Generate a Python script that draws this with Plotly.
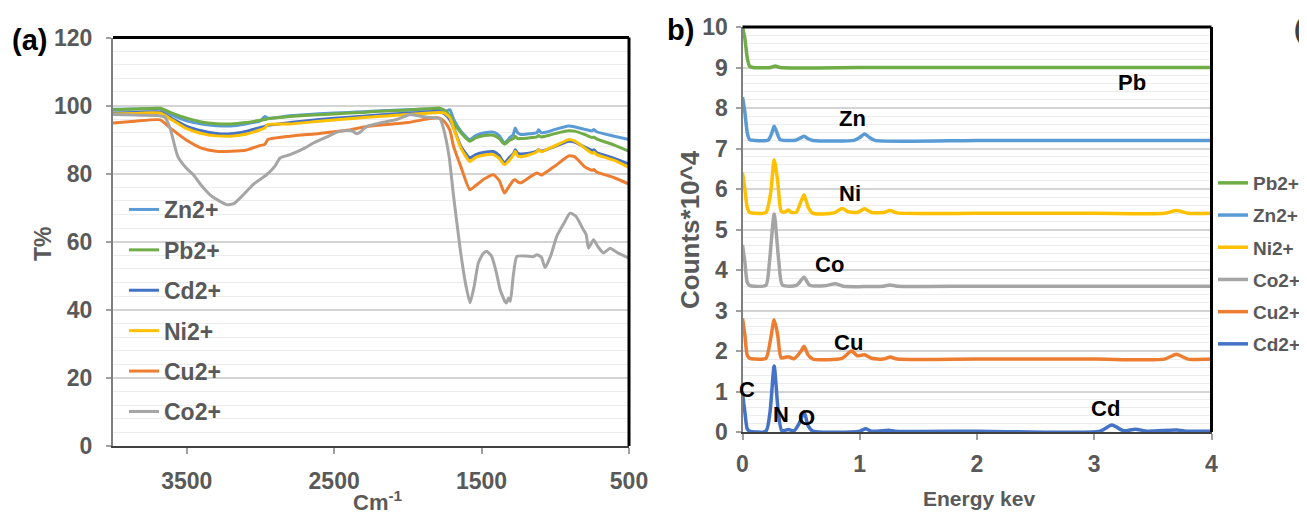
import plotly.graph_objects as go

# page body has an 8px margin; the figure starts 8px in from the top-left
OFF = 8
W, H = 1307 - 2 * OFF, 523 - 2 * OFF

# ---------------- FTIR data (panel a) ----------------
wn_main = [4000, 3850, 3680, 3600, 3500, 3400, 3300, 3200, 3100, 3000, 2970, 2950, 2800, 2600,
           2400, 2300, 2200, 2000, 1850, 1790, 1750, 1715, 1690, 1640, 1580, 1540, 1480, 1420,
           1380, 1345, 1310, 1285, 1272, 1255, 1235, 1180, 1125, 1113, 1095, 1050, 1000, 910,
           870, 800, 750, 738, 720, 600, 500]
t_zn = [98.9, 99.0, 99.0, 97.3, 95.5, 94.6, 94.1, 94.0, 94.6, 95.5, 96.8, 96.3, 97.0, 97.6,
        98.0, 98.2, 98.4, 98.8, 99.0, 99.0, 98.2, 98.8, 96.0, 92.5, 90.0, 91.2, 92.0, 92.2,
        91.2, 89.0, 90.5, 91.5, 93.4, 92.0, 91.5, 91.7, 92.0, 92.9, 92.0, 92.3, 93.0, 94.0,
        93.8, 93.0, 92.6, 93.0, 92.3, 91.0, 90.0]
t_pb = [98.8, 99.0, 99.2, 97.8, 96.3, 95.2, 94.7, 94.6, 95.0, 95.7, 95.9, 96.1, 96.8, 97.3,
        97.8, 98.0, 98.3, 98.7, 99.1, 99.3, 98.6, 97.0, 95.0, 92.0, 89.5, 90.5, 91.2, 91.3,
        90.3, 88.7, 89.8, 90.3, 91.0, 90.3, 90.3, 90.5, 90.8, 91.2, 90.8, 91.2, 91.8, 92.6,
        92.5, 91.5, 90.6, 90.8, 90.2, 88.4, 86.6]
t_cd = [97.8, 98.0, 98.1, 96.2, 93.9, 92.6, 91.8, 91.7, 92.4, 93.6, 93.9, 94.2, 95.0, 95.9,
        96.6, 96.9, 97.2, 97.8, 98.2, 98.3, 97.5, 95.8, 93.5, 88.0, 84.6, 85.6, 86.3, 86.5,
        85.3, 83.1, 84.8, 85.8, 87.0, 86.0, 85.8, 86.0, 86.6, 87.0, 86.6, 87.2, 88.0, 89.5,
        89.3, 87.8, 86.8, 87.0, 86.2, 84.5, 82.8]
t_ni = [97.5, 97.7, 97.8, 95.8, 93.2, 91.8, 91.1, 91.0, 91.6, 92.9, 93.4, 94.4, 94.6, 95.4,
        96.1, 96.5, 96.8, 97.4, 97.8, 98.0, 97.8, 96.5, 93.4, 87.5, 83.6, 84.8, 85.5, 85.6,
        84.5, 82.6, 84.0, 85.5, 86.6, 85.2, 85.0, 85.5, 86.4, 87.0, 86.4, 87.3, 88.2, 90.0,
        89.6, 87.5, 86.0, 86.3, 85.6, 83.9, 81.8]
t_cu = [94.9, 95.4, 95.8, 93.0, 89.8, 87.5, 86.6, 86.6, 86.9, 88.3, 88.6, 90.0, 91.0, 91.8,
        92.8, 93.7, 94.2, 95.0, 96.2, 96.4, 95.2, 92.8, 88.0, 82.0, 75.3, 76.5, 78.5, 79.7,
        78.0, 74.3, 76.5, 78.0, 78.2, 77.6, 77.3, 78.8, 80.2, 80.0, 79.6, 80.8, 82.3, 85.2,
        85.0, 82.0, 81.0, 81.2, 80.5, 78.8, 76.9]
wn_co = [4000, 3850, 3700, 3650, 3613, 3560, 3500, 3455, 3400, 3342, 3280, 3229, 3180, 3116,
         3050, 2957, 2900, 2867, 2799, 2700, 2641, 2550, 2460, 2381, 2347, 2320, 2279, 2180,
         2075, 1985, 1930, 1872, 1804, 1780, 1759, 1720, 1691, 1646, 1610, 1578, 1550, 1522,
         1490, 1465, 1431, 1400, 1374, 1341, 1330, 1318, 1305, 1285, 1261, 1200, 1150, 1125,
         1095, 1069, 1030, 990, 940, 900, 860, 809, 790, 775, 741, 710, 673, 628, 580, 500]
t_co = [97.4, 97.2, 97.1, 96.6, 93.4, 85.0, 81.5, 79.7, 76.5, 73.8, 72.0, 70.9, 71.2, 73.8,
        76.8, 79.7, 82.3, 84.6, 85.6, 87.5, 89.0, 90.8, 92.5, 92.6, 91.7, 92.3, 93.9, 95.0,
        95.9, 97.4, 97.0, 96.6, 96.4, 96.0, 93.4, 85.0, 73.8, 58.2, 48.0, 42.1, 47.0, 53.8,
        56.5, 57.2, 55.7, 51.0, 45.9, 42.4, 42.0, 43.5, 42.5, 50.0, 55.7, 55.8, 55.6, 56.2,
        55.5, 52.4, 56.0, 61.6, 65.5, 68.4, 67.5, 63.5, 62.0, 58.1, 60.6, 58.5, 56.7, 58.1,
        56.8, 55.2]

ftir_names = ["Zn2+", "Pb2+", "Cd2+", "Ni2+", "Cu2+", "Co2+"]
ftir_x = [wn_main, wn_main, wn_main, wn_main, wn_main, wn_co]
ftir_y = [t_zn, t_pb, t_cd, t_ni, t_cu, t_co]
ftir_colors = ["#5B9BD5", "#70AD47", "#4472C4", "#FFC000", "#ED7D31", "#A5A5A5"]
ftir_xticks = [3500, 2500, 1500, 500]

# ---------------- EDX data (panel b) ----------------
e_pb = [0, 0.02, 0.04, 0.06, 0.09, 0.24, 0.28, 0.32, 1.0, 2.0, 3.0, 4.0]
c_pb = [10.0, 9.72, 9.25, 9.03, 9.0, 9.0, 9.04, 9.0, 9.0, 9.0, 9.0, 9.0]
e_zn = [0, 0.02, 0.04, 0.06, 0.1, 0.22, 0.25, 0.27, 0.29, 0.32, 0.36, 0.46, 0.5, 0.525, 0.56,
        0.6, 0.95, 1.0, 1.04, 1.08, 1.13, 2.0, 3.0, 4.0]
c_zn = [8.27, 7.9, 7.4, 7.22, 7.2, 7.21, 7.38, 7.55, 7.42, 7.22, 7.2, 7.21, 7.27, 7.3, 7.24,
        7.2, 7.2, 7.27, 7.36, 7.28, 7.2, 7.2, 7.2, 7.2]
e_ni = [0, 0.02, 0.04, 0.06, 0.1, 0.2, 0.24, 0.27, 0.3, 0.33, 0.36, 0.39, 0.42, 0.46, 0.5,
        0.525, 0.56, 0.6, 0.78, 0.85, 0.9, 0.98, 1.04, 1.1, 1.2, 1.26, 1.32, 2.0, 3.0, 3.6,
        3.7, 3.8, 4.0]
c_ni = [6.41, 6.0, 5.55, 5.42, 5.4, 5.42, 5.9, 6.72, 6.2, 5.45, 5.43, 5.48, 5.42, 5.43, 5.7,
        5.86, 5.55, 5.4, 5.41, 5.52, 5.44, 5.42, 5.51, 5.42, 5.42, 5.47, 5.41, 5.4, 5.4, 5.4,
        5.47, 5.4, 5.4]
e_co = [0, 0.02, 0.04, 0.06, 0.1, 0.2, 0.23, 0.27, 0.31, 0.34, 0.46, 0.525, 0.57, 0.7, 0.79,
        0.86, 1.2, 1.26, 1.32, 2.0, 3.0, 4.0]
c_co = [4.62, 4.2, 3.7, 3.62, 3.6, 3.62, 4.2, 5.38, 4.2, 3.63, 3.62, 3.82, 3.63, 3.61, 3.66,
        3.6, 3.6, 3.63, 3.6, 3.6, 3.6, 3.6]
e_cu = [0, 0.02, 0.04, 0.06, 0.1, 0.2, 0.24, 0.27, 0.3, 0.33, 0.39, 0.44, 0.5, 0.525, 0.56,
        0.6, 0.85, 0.93, 0.98, 1.04, 1.1, 1.2, 1.26, 1.32, 2.0, 3.0, 3.6, 3.7, 3.8, 4.0]
c_cu = [2.81, 2.4, 1.9, 1.82, 1.8, 1.82, 2.3, 2.77, 2.4, 1.83, 1.86, 1.81, 2.0, 2.12, 1.9,
        1.8, 1.82, 2.0, 1.88, 1.91, 1.82, 1.8, 1.85, 1.8, 1.8, 1.8, 1.8, 1.92, 1.8, 1.8]
e_cd = [0, 0.02, 0.04, 0.06, 0.2, 0.235, 0.27, 0.305, 0.335, 0.39, 0.44, 0.49, 0.525, 0.56,
        0.6, 1.0, 1.05, 1.1, 1.26, 1.3, 2.0, 3.05, 3.15, 3.25, 3.35, 3.45, 3.7, 3.8, 4.0]
c_cd = [0.95, 0.5, 0.08, 0.02, 0.02, 0.5, 1.63, 0.5, 0.03, 0.06, 0.03, 0.25, 0.5, 0.15, 0.02,
        0.02, 0.08, 0.02, 0.04, 0.02, 0.02, 0.02, 0.17, 0.03, 0.07, 0.02, 0.05, 0.02, 0.02]

edx_names = ["Pb2+", "Zn2+", "Ni2+", "Co2+", "Cu2+", "Cd2+"]
edx_x = [e_pb, e_zn, e_ni, e_co, e_cu, e_cd]
edx_y = [c_pb, c_zn, c_ni, c_co, c_cu, c_cd]
edx_colors = ["#70AD47", "#5B9BD5", "#FFC000", "#A5A5A5", "#ED7D31", "#4472C4"]

edx_labels = ["Pb", "Zn", "Ni", "Co", "Cu", "C", "N", "O", "Cd"]
edx_label_e = [3.32, 0.94, 0.92, 0.74, 0.90, 0.04, 0.33, 0.545, 3.10]
edx_label_v = [8.64, 7.73, 5.88, 4.14, 2.20, 1.04, 0.43, 0.37, 0.58]

# ---------------- layout helpers (screen px -> paper) ----------------
def px(x):
    return (x - OFF) / W

def py(y):
    return 1 - (y - OFF) / H

FONT = "Liberation Sans, Arial, sans-serif"
GRAY = "#595959"

fig = go.Figure()

for name, xs, ys, col in zip(ftir_names, ftir_x, ftir_y, ftir_colors):
    fig.add_trace(go.Scatter(x=xs, y=ys, name=name, mode="lines",
                             line=dict(color=col, width=3, shape="spline", smoothing=0.5),
                             xaxis="x", yaxis="y", legend="legend", legendgroup="a" + name))

for name, xs, ys, col in zip(edx_names, edx_x, edx_y, edx_colors):
    fig.add_trace(go.Scatter(x=xs, y=ys, name=name, mode="lines",
                             line=dict(color=col, width=3.5, shape="spline", smoothing=0.6),
                             xaxis="x2", yaxis="y2", legend="legend2", legendgroup="b" + name))

tickfont = dict(family=FONT, size=23, color=GRAY, weight="bold")

fig.update_layout(
    width=W, height=H,
    margin=dict(l=0, r=0, t=0, b=0, autoexpand=False),
    paper_bgcolor="white", plot_bgcolor="white",
    showlegend=True,
    xaxis=dict(domain=[px(113), px(629)], range=[4000, 500], tickvals=ftir_xticks,
               showgrid=False, zeroline=False, showline=True, linecolor="#404040", linewidth=2,
               ticks="outside", ticklen=6, tickcolor="#a0a0a0", tickwidth=1.5,
               tickfont=tickfont, ticklabelstandoff=7, anchor="y"),
    yaxis=dict(domain=[py(446), py(37.5)], range=[0, 120], dtick=20,
               showgrid=True, gridcolor="#d4d4d4", gridwidth=1.5, zeroline=False,
               showline=True, linecolor="#7f7f7f", linewidth=2,
               ticks="outside", ticklen=5, tickcolor="#a0a0a0", tickwidth=1.5,
               minor=dict(dtick=4, showgrid=True, gridcolor="#ececec", gridwidth=1, ticks=""),
               tickfont=tickfont, ticklabelstandoff=9, anchor="x"),
    xaxis2=dict(domain=[px(742.5), px(1211.5)], range=[0, 4], dtick=1,
                showgrid=False, zeroline=False, showline=True, linecolor="#404040", linewidth=2,
                ticks="outside", ticklen=6, tickcolor="#a0a0a0", tickwidth=1.5,
                tickfont=tickfont, ticklabelstandoff=4, anchor="y2"),
    yaxis2=dict(domain=[py(432), py(27)], range=[0, 10], dtick=1,
                showgrid=True, gridcolor="#d4d4d4", gridwidth=1.5, zeroline=False,
                showline=True, linecolor="#7f7f7f", linewidth=2,
                ticks="outside", ticklen=5, tickcolor="#a0a0a0", tickwidth=1.5,
                minor=dict(dtick=0.2, showgrid=True, gridcolor="#ececec", gridwidth=1, ticks=""),
                tickfont=tickfont, ticklabelstandoff=3, anchor="x2"),
    legend=dict(x=px(124), y=py(188), xanchor="left", yanchor="top",
                bgcolor="rgba(0,0,0,0)", borderwidth=0, tracegroupgap=7.5,
                font=dict(family=FONT, size=23, color=GRAY, weight="bold")),
    legend2=dict(x=px(1213), y=py(164), xanchor="left", yanchor="top",
                 bgcolor="rgba(0,0,0,0)", borderwidth=0, tracegroupgap=4.5,
                 font=dict(family=FONT, size=19, color=GRAY, weight="bold")),
)

# black top/right frame lines
for xr, yr in (("x domain", "y domain"), ("x2 domain", "y2 domain")):
    fig.add_shape(type="line", xref=xr, yref=yr, x0=0, x1=1, y0=1, y1=1,
                  line=dict(color="black", width=3))
    fig.add_shape(type="line", xref=xr, yref=yr, x0=1, x1=1, y0=0, y1=1,
                  line=dict(color="black", width=3))

# element labels on EDX
for t, e, v in zip(edx_labels, edx_label_e, edx_label_v):
    fig.add_annotation(x=e, y=v, xref="x2", yref="y2", text=t, showarrow=False,
                       xanchor="center", yanchor="middle",
                       font=dict(family=FONT, size=22, color="black", weight="bold"))

# panel labels and axis titles
ann = [
    dict(x=px(29), y=py(40), text="(a)", font=dict(family=FONT, size=29, color="black", weight="bold")),
    dict(x=px(680), y=py(30), text="b)", font=dict(family=FONT, size=29, color="black", weight="bold")),
    dict(x=px(1292), y=py(29), text="(c)", xanchor="left",
         font=dict(family=FONT, size=26, color="#404040", weight="bold")),
    dict(x=px(43), y=py(244), text="T%", textangle=-90,
         font=dict(family=FONT, size=23, color=GRAY, weight="bold")),
    dict(x=px(378), y=py(501), text="Cm<sup>-1</sup>",
         font=dict(family=FONT, size=22, color=GRAY, weight="bold")),
    dict(x=px(979), y=py(498), text="Energy kev",
         font=dict(family=FONT, size=21, color=GRAY, weight="bold")),
    dict(x=px(690), y=py(230), text="Counts*10^4", textangle=-90,
         font=dict(family=FONT, size=26, color=GRAY, weight="bold")),
]
for a in ann:
    a.setdefault("xanchor", "center")
    fig.add_annotation(xref="paper", yref="paper", showarrow=False, yanchor="middle", **a)

fig.write_html("out.html")
